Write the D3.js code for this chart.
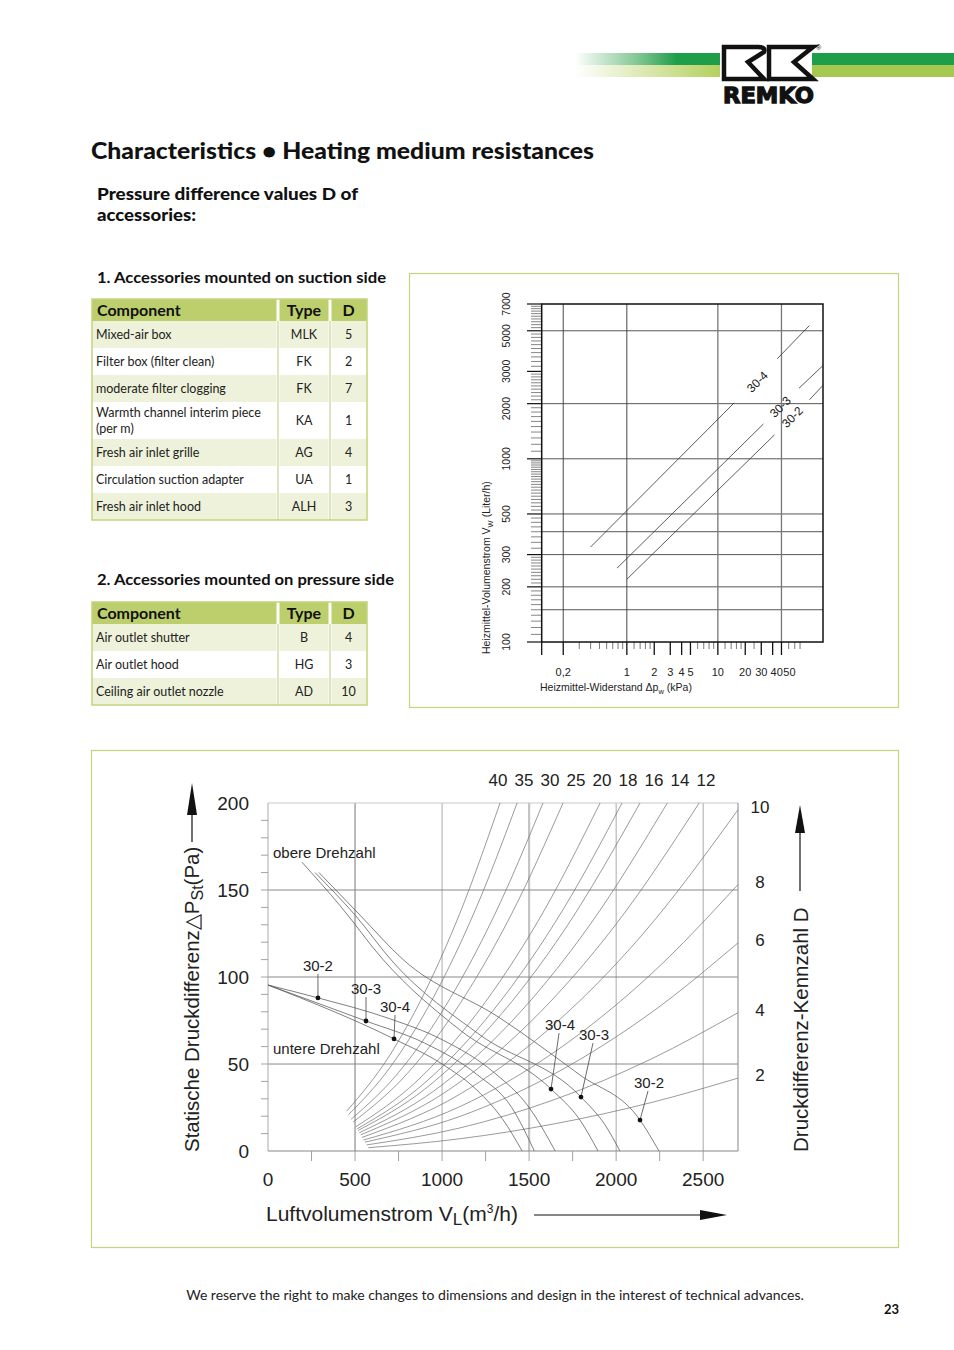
<!DOCTYPE html>
<html>
<head>
<meta charset="utf-8">
<script src="https://cdn.jsdelivr.net/npm/d3@7"></script>
<style>
  body { margin: 0; background: #fff; }
  svg { display: block; }
</style>
</head>
<body>
<div id="page"></div>
<script>
// ---- tables ----
const suctionComponent = ["Mixed-air box", "Filter box (filter clean)", "moderate filter clogging",
  "Warmth channel interim piece|(per m)", "Fresh air inlet grille", "Circulation suction adapter", "Fresh air inlet hood"];
const suctionType = ["MLK", "FK", "FK", "KA", "AG", "UA", "ALH"];
const suctionD = [5, 2, 7, 1, 4, 1, 3];

const pressureComponent = ["Air outlet shutter", "Air outlet hood", "Ceiling air outlet nozzle"];
const pressureType = ["B", "HG", "AD"];
const pressureD = [4, 3, 10];

// ---- heating medium resistance (log-log), each coil drawn in two pieces around its label ----
const coilNames = ["30-4", "30-3", "30-2"];
const coilKpa = [[0.4, 15.1, 45, 101], [0.78, 31.7, 78, 143], [1.0, 41.9, 101.5, 143]];
const coilLiter = [[330, 2020, 3520, 5330], [253, 1550, 2430, 3230], [220, 1352, 2100, 2520]];
const coilLabelAt = [[29.2, 2540], [52.2, 1850], [70.7, 1630]];
const kpaLabels = [0.2, 1, 2, 3, 4, 5, 10, 20, 30, 40, 50];
const kpaMinor = [0.3, 0.4, 0.5, 0.6, 0.7, 0.8, 0.9, 1.2, 1.4, 1.6, 1.8, 6, 7, 8, 9, 12, 14, 16, 18, 25, 60, 70, 80];
const literLabels = [100, 200, 300, 500, 1000, 2000, 3000, 5000, 7000];
const literGrid = [150, 200, 300, 400, 500, 1000, 2000, 5000];

// ---- pressure chart: system curves (Kennzahl D) ----
const dValues = [40, 35, 30, 25, 20, 18, 16, 14, 12, 10, 8, 6, 4, 2];
const sysFlow = [
  [452, 700, 900, 1100, 1333],
  [463, 700, 950, 1200, 1431],
  [478, 750, 1000, 1300, 1580],
  [489, 800, 1100, 1400, 1695],
  [504, 850, 1200, 1550, 1908],
  [512, 900, 1300, 1700, 2034],
  [518, 900, 1300, 1700, 2137],
  [525, 950, 1400, 1850, 2294],
  [533, 1000, 1500, 2000, 2477],
  [540, 1100, 1600, 2150, 2700],
  [549, 1100, 1650, 2200, 2700],
  [557, 1100, 1650, 2200, 2700],
  [567, 1100, 1650, 2200, 2700],
  [576, 1100, 1650, 2200, 2700]
];
const sysPressure = [
  [22.9, 55.1, 91.1, 136.1, 200],
  [20.9, 47.9, 88.2, 140.7, 200],
  [18.3, 45.1, 80.1, 135.4, 200],
  [16.6, 44.5, 84.2, 136.4, 200],
  [13.9, 39.7, 79.1, 131.9, 200],
  [12.7, 39.1, 81.6, 139.6, 200],
  [11.8, 35.5, 74.0, 126.6, 200],
  [10.5, 34.3, 74.5, 130.1, 200],
  [9.3, 32.6, 73.4, 130.4, 200],
  [7.8, 32.5, 68.9, 124.3, 196.1],
  [6.3, 25.4, 57.2, 101.6, 153.1],
  [5.1, 19.8, 44.6, 79.4, 119.6],
  [3.5, 13.2, 29.7, 52.8, 79.5],
  [1.9, 7.0, 15.7, 27.8, 41.9]
];
const topDLabels = [40, 35, 30, 25, 20, 18, 16, 14, 12];

// ---- fan curves, upper and lower speed ----
const fanNames = ["30-2", "30-3", "30-4"];
const upperFlow = [
  [293, 528, 776, 1333, 1792, 2137, 2246],
  [270, 500, 718, 1218, 1798, 1936, 2022],
  [195, 414, 661, 1103, 1626, 1792, 1896]
];
const upperPressure = [
  [160, 135.6, 110, 76.4, 43.7, 17.8, 0],
  [160, 135.6, 108.6, 66.7, 31, 15, 0],
  [166, 141, 110, 69.5, 35.6, 17.8, 0]
];
const upperMark = [[2137, 17.8], [1798, 31], [1626, 35.6]];
const lowerFlow = [
  [0, 287, 700, 1000, 1300, 1500, 1650],
  [0, 563, 900, 1200, 1400, 1530],
  [0, 724, 1000, 1200, 1350, 1460]
];
const lowerPressure = [
  [95.4, 88, 76, 64, 45, 25, 0],
  [95.4, 74.7, 62, 44, 25, 0],
  [95.4, 64.4, 50, 35, 18, 0]
];
const lowerMark = [[287, 88], [563, 74.7], [724, 64.4]];
const flowTicks = [0, 500, 1000, 1500, 2000, 2500];
const pressureTicks = [0, 50, 100, 150, 200];

const W = 954, H = 1350;
const LATO = "Lato, 'Open Sans', sans-serif";
const ARIAL = "'Liberation Sans', Arial, sans-serif";
const GREEN_HEAD = "#bccf6c", GREEN_ROW = "#eef2da", GREEN_LINE = "#c3d47c";

const svg = d3.select("#page").append("svg").attr("width", W).attr("height", H);
svg.append("rect").attr("width", W).attr("height", H).attr("fill", "#fff");

// ---------- logo ----------
const defs = svg.append("defs");
const g1 = defs.append("linearGradient").attr("id", "gDark").attr("x1", "0").attr("x2", "1");
g1.append("stop").attr("offset", "0").attr("stop-color", "#fff");
g1.append("stop").attr("offset", "0.45").attr("stop-color", "#7cc48f");
g1.append("stop").attr("offset", "0.7").attr("stop-color", "#1f9e4a");
g1.append("stop").attr("offset", "1").attr("stop-color", "#1f9e4a");
const g2 = defs.append("linearGradient").attr("id", "gLight").attr("x1", "0").attr("x2", "1");
g2.append("stop").attr("offset", "0").attr("stop-color", "#fff");
g2.append("stop").attr("offset", "1").attr("stop-color", "#b4d05e");

const logo = svg.append("g");
logo.append("rect").attr("x", 575).attr("y", 53).attr("width", 145).attr("height", 12).attr("fill", "url(#gDark)");
logo.append("rect").attr("x", 575).attr("y", 65).attr("width", 145).attr("height", 12).attr("fill", "url(#gLight)");
logo.append("rect").attr("x", 812).attr("y", 53).attr("width", 142).attr("height", 12).attr("fill", "#1f9e4a");
logo.append("rect").attr("x", 812).attr("y", 65).attr("width", 142).attr("height", 12).attr("fill", "#a6c850");
logo.append("path")
  .attr("d", "M724,47 H758 Q766,47 764,52 L748,62 L764,79 H724 Z")
  .attr("fill", "#fff").attr("stroke", "#111").attr("stroke-width", 4.5).attr("stroke-linejoin", "miter");
logo.append("path")
  .attr("d", "M769,47 H813 L794,62 L813,79 H769 Z")
  .attr("fill", "#fff").attr("stroke", "#111").attr("stroke-width", 4.5).attr("stroke-linejoin", "miter");
logo.append("text").attr("x", 816).attr("y", 50).text("®")
  .attr("font-family", ARIAL).attr("font-size", 7).attr("fill", "#111");
logo.append("text").attr("x", 723).attr("y", 103).text("REMKO")
  .attr("font-family", "'DejaVu Sans', sans-serif").attr("font-weight", "bold")
  .attr("font-size", 22).attr("textLength", 91).attr("lengthAdjust", "spacingAndGlyphs")
  .attr("fill", "#111").attr("stroke", "#111").attr("stroke-width", 1.3);

// ---------- headings ----------
svg.append("text").attr("x", 91).attr("y", 159).text("Characteristics • Heating medium resistances")
  .attr("font-family", LATO).attr("font-weight", 900).attr("font-size", 22)
  .attr("textLength", 503).attr("lengthAdjust", "spacingAndGlyphs").attr("fill", "#111");
svg.append("text").attr("x", 97).attr("y", 200).text("Pressure difference values D of")
  .attr("font-family", LATO).attr("font-weight", 900).attr("font-size", 16)
  .attr("textLength", 261).attr("lengthAdjust", "spacingAndGlyphs").attr("fill", "#111");
svg.append("text").attr("x", 97).attr("y", 221).text("accessories:")
  .attr("font-family", LATO).attr("font-weight", 900).attr("font-size", 16)
  .attr("textLength", 99).attr("lengthAdjust", "spacingAndGlyphs").attr("fill", "#111");
svg.append("text").attr("x", 97).attr("y", 283).text("1. Accessories mounted on suction side")
  .attr("font-family", LATO).attr("font-weight", 700).attr("font-size", 16)
  .attr("textLength", 289).attr("lengthAdjust", "spacingAndGlyphs").attr("fill", "#111");
svg.append("text").attr("x", 97).attr("y", 585).text("2. Accessories mounted on pressure side")
  .attr("font-family", LATO).attr("font-weight", 700).attr("font-size", 16)
  .attr("textLength", 297).attr("lengthAdjust", "spacingAndGlyphs").attr("fill", "#111");

// ---------- tables ----------
function drawTable(top, comps, types, ds) {
  const cols = [92, 278, 330, 367];
  const headH = 22;
  const heights = comps.map(c => c.includes("|") ? 37 : 27);
  const g = svg.append("g");
  g.append("rect").attr("x", cols[0]).attr("y", top).attr("width", cols[3] - cols[0]).attr("height", headH)
    .attr("fill", GREEN_HEAD);
  let y = top + headH;
  comps.forEach((c, i) => {
    const h = heights[i];
    g.append("rect").attr("x", cols[0]).attr("y", y).attr("width", cols[3] - cols[0]).attr("height", h)
      .attr("fill", i % 2 === 0 ? GREEN_ROW : "#fff");
    const lines = c.split("|");
    const cy = y + h / 2;
    lines.forEach((ln, k) => {
      g.append("text").attr("x", 96).attr("y", cy + 4.5 + (k - (lines.length - 1) / 2) * 16).text(ln)
        .attr("font-family", LATO).attr("font-size", 12.5).attr("fill", "#222");
    });
    g.append("text").attr("x", (cols[1] + cols[2]) / 2).attr("y", cy + 4.5).text(types[i])
      .attr("text-anchor", "middle").attr("font-family", LATO).attr("font-size", 12.5).attr("fill", "#222");
    g.append("text").attr("x", (cols[2] + cols[3]) / 2).attr("y", cy + 4.5).text(ds[i])
      .attr("text-anchor", "middle").attr("font-family", LATO).attr("font-size", 12.5).attr("fill", "#222");
    y += h;
  });
  const bottom = y;
  // column separators
  [cols[1], cols[2]].forEach(x => {
    g.append("line").attr("x1", x).attr("x2", x).attr("y1", top).attr("y2", bottom)
      .attr("stroke", "#fff").attr("stroke-width", 3);
    g.append("line").attr("x1", x).attr("x2", x).attr("y1", top + headH).attr("y2", bottom)
      .attr("stroke", "#c9d29a").attr("stroke-width", 1.2);
  });
  g.append("rect").attr("x", cols[0]).attr("y", top).attr("width", cols[3] - cols[0]).attr("height", bottom - top)
    .attr("fill", "none").attr("stroke", GREEN_LINE).attr("stroke-width", 1.5);
  const hy = top + 17;
  g.append("text").attr("x", 97).attr("y", hy).text("Component")
    .attr("font-family", LATO).attr("font-weight", 700).attr("font-size", 16).attr("fill", "#111");
  g.append("text").attr("x", (cols[1] + cols[2]) / 2).attr("y", hy).text("Type").attr("text-anchor", "middle")
    .attr("font-family", LATO).attr("font-weight", 700).attr("font-size", 16).attr("fill", "#111");
  g.append("text").attr("x", (cols[2] + cols[3]) / 2).attr("y", hy).text("D").attr("text-anchor", "middle")
    .attr("font-family", LATO).attr("font-weight", 700).attr("font-size", 16).attr("fill", "#111");
}
drawTable(299, suctionComponent, suctionType, suctionD);
drawTable(602, pressureComponent, pressureType, pressureD);

// ---------- heating medium resistance chart ----------
svg.append("rect").attr("x", 409.5).attr("y", 273.5).attr("width", 489).attr("height", 434)
  .attr("fill", "none").attr("stroke", GREEN_LINE).attr("stroke-width", 1.2);

const lx = d3.scaleLog().domain([0.116, 143]).range([541.7, 823]);
const ly = d3.scaleLog().domain([100, 7000]).range([642, 304]);
const hr = svg.append("g");

literGrid.forEach(v => {
  hr.append("line").attr("x1", lx.range()[0]).attr("x2", lx.range()[1]).attr("y1", ly(v)).attr("y2", ly(v))
    .attr("stroke", "#444").attr("stroke-width", 0.9);
});
[0.2, 1, 10, 50].forEach(v => {
  hr.append("line").attr("x1", lx(v)).attr("x2", lx(v)).attr("y1", ly.range()[1]).attr("y2", ly.range()[0])
    .attr("stroke", v >= 10 ? "#777" : "#333").attr("stroke-width", v >= 10 ? 1.3 : 0.9);
});

// y minor ticks
const yMinor = [];
for (let v = 110; v < 300; v += 10) yMinor.push(v);
for (let v = 325; v < 1000; v += 25) yMinor.push(v);
for (let v = 1100; v < 3000; v += 100) yMinor.push(v);
for (let v = 3200; v < 7000; v += 200) yMinor.push(v);
yMinor.filter(v => !literLabels.includes(v)).forEach(v => {
  hr.append("line").attr("x1", 531).attr("x2", 541.7).attr("y1", ly(v)).attr("y2", ly(v))
    .attr("stroke", "#666").attr("stroke-width", 0.8);
});
const literLabelNudge = { 5000: 5, 2000: 5 };
literLabels.forEach(v => {
  hr.append("line").attr("x1", 527).attr("x2", 541.7).attr("y1", ly(v)).attr("y2", ly(v))
    .attr("stroke", "#111").attr("stroke-width", 1.2);
  hr.append("text").attr("transform", `translate(510,${ly(v) + (literLabelNudge[v] || 0)}) rotate(-90)`).text(v)
    .attr("text-anchor", "middle").attr("font-family", ARIAL).attr("font-size", 10.5).attr("fill", "#222");
});
kpaMinor.forEach(v => {
  hr.append("line").attr("x1", lx(v)).attr("x2", lx(v)).attr("y1", 642).attr("y2", 649)
    .attr("stroke", "#777").attr("stroke-width", 1);
});
kpaLabels.forEach(v => {
  hr.append("line").attr("x1", lx(v)).attr("x2", lx(v)).attr("y1", 642).attr("y2", 655)
    .attr("stroke", "#111").attr("stroke-width", 1.3);
  hr.append("text").attr("x", lx(v) + (v === 40 ? 4 : v === 50 ? 8 : 0)).attr("y", 676)
    .text(String(v).replace(".", ",")).attr("text-anchor", "middle")
    .attr("font-family", ARIAL).attr("font-size", 11).attr("fill", "#222");
});
hr.append("line").attr("x1", 541.7).attr("x2", 541.7).attr("y1", 642).attr("y2", 655)
  .attr("stroke", "#111").attr("stroke-width", 1.3);
hr.append("rect").attr("x", 541.7).attr("y", 304).attr("width", 823 - 541.7).attr("height", 642 - 304)
  .attr("fill", "none").attr("stroke", "#111").attr("stroke-width", 1.5);

// coil lines (break around the labels)
const coilLine = d3.line().x(d => lx(d[0])).y(d => ly(d[1]));
coilNames.forEach((name, i) => {
  const pts = coilKpa[i].map((k, j) => [k, coilLiter[i][j]]);
  [[pts[0], pts[1]], [pts[2], pts[3]]].forEach(seg => {
    hr.append("path").attr("d", coilLine(seg)).attr("fill", "none").attr("stroke", "#333").attr("stroke-width", 0.8);
  });
  const p = coilLabelAt[i];
  hr.append("text").attr("transform", `translate(${lx(p[0])},${ly(p[1])}) rotate(-45)`).text(name)
    .attr("text-anchor", "middle").attr("font-family", ARIAL).attr("font-size", 12).attr("fill", "#222");
});
hr.append("text").attr("transform", "translate(490,654) rotate(-90)")
  .attr("font-family", ARIAL).attr("font-size", 10.5).attr("fill", "#222")
  .call(t => {
    t.append("tspan").text("Heizmittel-Volumenstrom V");
    t.append("tspan").text("W").attr("font-size", 7.5).attr("dy", 2.5);
    t.append("tspan").text(" (Liter/h)").attr("dy", -2.5);
  });
hr.append("text").attr("x", 540).attr("y", 691)
  .attr("font-family", ARIAL).attr("font-size", 10.5).attr("fill", "#222")
  .call(t => {
    t.append("tspan").text("Heizmittel-Widerstand Δp");
    t.append("tspan").text("w").attr("font-size", 7.5).attr("dy", 2.5);
    t.append("tspan").text(" (kPa)").attr("dy", -2.5);
  });

// ---------- pressure / air flow chart ----------
svg.append("rect").attr("x", 91.5).attr("y", 750.5).attr("width", 807).attr("height", 497)
  .attr("fill", "none").attr("stroke", GREEN_LINE).attr("stroke-width", 1.2);

const bx = d3.scaleLinear().domain([0, 2700]).range([268, 738]);
const by = d3.scaleLinear().domain([0, 200]).range([1151, 803]);
const pc = svg.append("g");

// grid
flowTicks.slice(1).forEach(v => {
  pc.append("line").attr("x1", bx(v)).attr("x2", bx(v)).attr("y1", by(200)).attr("y2", by(0))
    .attr("stroke", v === 500 ? "#777" : (v === 1500 ? "#c4c4c4" : "#aaa"))
    .attr("stroke-width", v === 1500 ? 2.2 : 1);
});
pressureTicks.slice(1, 4).forEach(v => {
  pc.append("line").attr("x1", bx(0)).attr("x2", bx(2700)).attr("y1", by(v)).attr("y2", by(v))
    .attr("stroke", "#888").attr("stroke-width", 1);
});
pc.append("line").attr("x1", bx(0)).attr("x2", bx(2700)).attr("y1", by(200)).attr("y2", by(200))
  .attr("stroke", "#c8c8c8").attr("stroke-width", 1);
pc.append("line").attr("x1", bx(2700)).attr("x2", bx(2700)).attr("y1", by(200)).attr("y2", by(0))
  .attr("stroke", "#999").attr("stroke-width", 1.2);
pc.append("line").attr("x1", bx(0)).attr("x2", bx(0)).attr("y1", by(200)).attr("y2", by(0))
  .attr("stroke", "#aaa").attr("stroke-width", 1);
pc.append("line").attr("x1", bx(0)).attr("x2", bx(2700)).attr("y1", by(0)).attr("y2", by(0))
  .attr("stroke", "#888").attr("stroke-width", 1.2);

// minor ticks
for (let v = 10; v < 200; v += 10) {
  pc.append("line").attr("x1", 261).attr("x2", 268).attr("y1", by(v)).attr("y2", by(v))
    .attr("stroke", "#999").attr("stroke-width", 0.9);
}
for (let v = 250; v <= 2500; v += 250) {
  pc.append("line").attr("x1", bx(v)).attr("x2", bx(v)).attr("y1", 1151).attr("y2", 1161)
    .attr("stroke", "#999").attr("stroke-width", 0.9);
}
// tick labels
pressureTicks.forEach(v => {
  pc.append("text").attr("x", 249).attr("y", by(v) + 7).text(v).attr("text-anchor", "end")
    .attr("font-family", ARIAL).attr("font-size", 19).attr("fill", "#222");
});
flowTicks.forEach(v => {
  pc.append("text").attr("x", bx(v)).attr("y", 1186).text(v).attr("text-anchor", "middle")
    .attr("font-family", ARIAL).attr("font-size", 19).attr("fill", "#222");
});

// system curves
const curve = d3.line().x(d => bx(d[0])).y(d => by(d[1])).curve(d3.curveMonotoneX);
dValues.forEach((d, i) => {
  const pts = sysFlow[i].map((v, j) => [v, sysPressure[i][j]]);
  pc.append("path").attr("d", curve(pts)).attr("fill", "none").attr("stroke", "#6e6e6e").attr("stroke-width", 0.7);
  const last = pts[pts.length - 1];
  if (last[0] >= 2700) {
    pc.append("text").attr("x", 760).attr("y", by(last[1]) + 3).text(d).attr("text-anchor", "middle")
      .attr("font-family", ARIAL).attr("font-size", 17).attr("fill", "#222");
  }
});
topDLabels.forEach((d, i) => {
  pc.append("text").attr("x", 498 + i * 26).attr("y", 786).text(d).attr("text-anchor", "middle")
    .attr("font-family", ARIAL).attr("font-size", 17).attr("fill", "#222");
});

// fan curves
fanNames.forEach((n, i) => {
  const up = upperFlow[i].map((v, j) => [v, upperPressure[i][j]]);
  const lo = lowerFlow[i].map((v, j) => [v, lowerPressure[i][j]]);
  pc.append("path").attr("d", curve(up)).attr("fill", "none").attr("stroke", "#555").attr("stroke-width", 0.75);
  pc.append("path").attr("d", curve(lo)).attr("fill", "none").attr("stroke", "#555").attr("stroke-width", 0.75);
});

// annotations with leaders
const lowerLabelOffset = [[0, -27], [0, -27], [1, -27]];
const upperLabelOffset = [[9, -32], [13, -57], [9, -59]];
function annotate(mark, off, name) {
  const px = bx(mark[0]), py = by(mark[1]);
  const tx = px + off[0], ty = py + off[1];
  pc.append("line").attr("x1", tx - (off[0] > 2 ? 1 : 0)).attr("y1", ty + 3).attr("x2", px).attr("y2", py)
    .attr("stroke", "#444").attr("stroke-width", 0.8);
  pc.append("circle").attr("cx", px).attr("cy", py).attr("r", 2.4).attr("fill", "#111");
  pc.append("text").attr("x", tx).attr("y", ty).text(name).attr("text-anchor", "middle")
    .attr("font-family", ARIAL).attr("font-size", 15).attr("fill", "#222");
}
fanNames.forEach((n, i) => {
  annotate(lowerMark[i], lowerLabelOffset[i], n);
  annotate(upperMark[i], upperLabelOffset[i], n);
});
pc.append("text").attr("x", 273).attr("y", 858).text("obere Drehzahl")
  .attr("font-family", ARIAL).attr("font-size", 15).attr("fill", "#222");
pc.append("text").attr("x", 273).attr("y", 1054).text("untere Drehzahl")
  .attr("font-family", ARIAL).attr("font-size", 15).attr("fill", "#222");

// axis titles with arrows
pc.append("text").attr("transform", "translate(199,1152) rotate(-90)")
  .attr("font-family", ARIAL).attr("font-size", 20.5).attr("fill", "#222")
  .call(t => {
    t.append("tspan").text("Statische Druckdifferenz△P");
    t.append("tspan").text("St").attr("font-size", 16).attr("dy", 4);
    t.append("tspan").text("(Pa)").attr("dy", -4);
  });
pc.append("line").attr("x1", 192).attr("x2", 192).attr("y1", 842).attr("y2", 805)
  .attr("stroke", "#111").attr("stroke-width", 1.2);
pc.append("path").attr("d", "M192,783 L187,815 L197,815 Z").attr("fill", "#111");

pc.append("text").attr("transform", "translate(808,1152) rotate(-90)").text("Druckdifferenz-Kennzahl D")
  .attr("font-family", ARIAL).attr("font-size", 20.5).attr("fill", "#222");
pc.append("line").attr("x1", 800).attr("x2", 800).attr("y1", 891).attr("y2", 825)
  .attr("stroke", "#111").attr("stroke-width", 1.2);
pc.append("path").attr("d", "M800,805 L795,833 L805,833 Z").attr("fill", "#111");

pc.append("text").attr("x", 266).attr("y", 1221)
  .attr("font-family", ARIAL).attr("font-size", 21).attr("fill", "#222")
  .call(t => {
    t.append("tspan").text("Luftvolumenstrom V");
    t.append("tspan").text("L").attr("font-size", 17).attr("dy", 4);
    t.append("tspan").text("(m").attr("dy", -4);
    t.append("tspan").text("3").attr("font-size", 12).attr("dy", -8);
    t.append("tspan").text("/h)").attr("dy", 8);
  });
pc.append("line").attr("x1", 534).attr("x2", 705).attr("y1", 1215).attr("y2", 1215)
  .attr("stroke", "#111").attr("stroke-width", 1.2);
pc.append("path").attr("d", "M727,1215 L700,1210 L700,1220 Z").attr("fill", "#111");

// ---------- footer ----------
svg.append("text").attr("x", 495).attr("y", 1300)
  .text("We reserve the right to make changes to dimensions and design in the interest of technical advances.")
  .attr("text-anchor", "middle").attr("font-family", LATO).attr("font-size", 14).attr("fill", "#222");
svg.append("text").attr("x", 899).attr("y", 1314).text("23").attr("text-anchor", "end")
  .attr("font-family", LATO).attr("font-weight", 700).attr("font-size", 13).attr("fill", "#111");
</script>
</body>
</html>
